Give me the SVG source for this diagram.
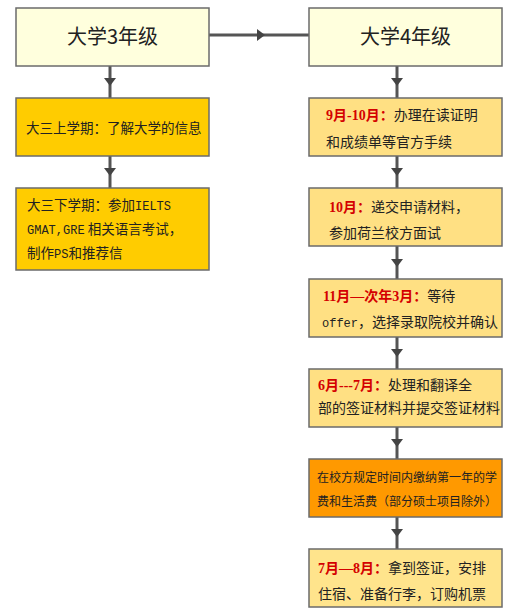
<svg xmlns="http://www.w3.org/2000/svg" width="521" height="616" viewBox="0 0 521 616">
<style>
.box{stroke:#6b6b6b;stroke-width:1.5}
.cream{fill:#FFFFDD}
.gold{fill:#FFCC00}
.lt{fill:#FFE083}
.lt2{fill:#FFE48C}
.org{fill:#FF9900}
.title{font-family:"Noto Sans CJK SC","Liberation Sans",sans-serif;font-size:20px;fill:#222;text-anchor:middle}
.t{font-family:"Noto Sans CJK SC","Liberation Sans",sans-serif;font-size:14px;fill:#222}
.tl{font-family:"Noto Sans CJK SC","Liberation Sans",sans-serif;font-size:13.5px;fill:#222}
.ts{font-family:"Noto Sans CJK SC","Liberation Sans",sans-serif;font-size:12px;fill:#222}
.r{fill:#D40000;font-weight:bold;font-family:"Liberation Serif","Noto Sans CJK SC",serif}
.m{font-family:"Liberation Mono","Noto Sans CJK SC",monospace;font-size:12px}
.c{fill:none;stroke:#555;stroke-width:3;marker-mid:url(#ah)}
</style>
<defs>
<marker id="ah" viewBox="0 0 8 12" refX="4" refY="6" markerWidth="8" markerHeight="12" markerUnits="userSpaceOnUse" orient="auto">
<path d="M0,0 L8,6 L0,12 Z" fill="#444"/>
</marker>
</defs>
<g id="connectors">
<path class="c" d="M209,35 L261,35 L309,35"/>
<path class="c" d="M110,66 L110,82 L110,98"/>
<path class="c" d="M110,156 L110,172 L110,188"/>
<path class="c" d="M397,66 L397,82 L397,98"/>
<path class="c" d="M397,156 L397,172 L397,188"/>
<path class="c" d="M397,246 L397,263 L397,279"/>
<path class="c" d="M397,337 L397,353 L397,369"/>
<path class="c" d="M397,427 L397,443 L397,459"/>
<path class="c" d="M397,517 L397,533 L397,549"/>
</g>
<g id="n_y3">
<rect class="box cream" x="16" y="8" width="193" height="58"/>
<text class="title" x="112.5" y="44">大学3年级</text>
</g>
<g id="n_y4">
<rect class="box cream" x="309" y="8" width="193" height="58"/>
<text class="title" x="405.5" y="44">大学4年级</text>
</g>
<g id="n_l1">
<rect class="box gold" x="16" y="98" width="193" height="58"/>
<text class="tl" x="26" y="133">大三上学期：了解大学的信息</text>
</g>
<g id="n_l2">
<rect class="box gold" x="16" y="188" width="193" height="82"/>
<text class="tl" x="27" y="210">大三下学期：参加<tspan class="m">IELTS</tspan></text>
<text class="tl" x="27" y="234"><tspan class="m">GMAT,GRE</tspan> 相关语言考试，</text>
<text class="tl" x="27" y="258">制作<tspan class="m">PS</tspan>和推荐信</text>
</g>
<g id="n_r1">
<rect class="box lt" x="309" y="98" width="193" height="58"/>
<text class="t" x="326" y="120"><tspan class="r">9月-10月：</tspan>办理在读证明</text>
<text class="t" x="326" y="147">和成绩单等官方手续</text>
</g>
<g id="n_r2">
<rect class="box lt" x="309" y="188" width="193" height="58"/>
<text class="t" x="329" y="212"><tspan class="r">10月：</tspan>递交申请材料，</text>
<text class="t" x="329" y="238">参加荷兰校方面试</text>
</g>
<g id="n_r3">
<rect class="box lt" x="309" y="279" width="193" height="58"/>
<text class="t" x="323" y="301"><tspan class="r">11月—次年3月：</tspan>等待</text>
<text class="t" x="322" y="327"><tspan class="m">offer</tspan>，选择录取院校并确认</text>
</g>
<g id="n_r4">
<rect class="box lt" x="309" y="369" width="193" height="58"/>
<text class="t" x="318" y="390"><tspan class="r">6月---7月：</tspan>处理和翻译全</text>
<text class="t" x="318" y="413">部的签证材料并提交签证材料</text>
</g>
<g id="n_r5">
<rect class="box org" x="309" y="459" width="193" height="58"/>
<text class="ts" x="317" y="482">在校方规定时间内缴纳第一年的学</text>
<text class="ts" x="317" y="506">费和生活费（部分硕士项目除外）</text>
</g>
<g id="n_r6">
<rect class="box lt2" x="309" y="549" width="193" height="58"/>
<text class="t" x="318" y="573"><tspan class="r">7月—8月：</tspan>拿到签证，安排</text>
<text class="t" x="318" y="599">住宿、准备行李，订购机票</text>
</g>
</svg>
